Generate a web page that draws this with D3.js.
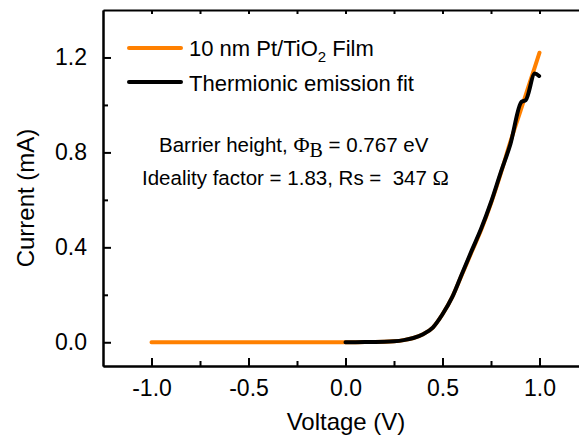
<!DOCTYPE html>
<html>
<head>
<meta charset="utf-8">
<script src="https://cdn.jsdelivr.net/npm/d3@7"></script>
<style>
  body { margin: 0; background: #fff; }
  svg { display: block; font-family: "Liberation Sans", Arial, sans-serif; }
</style>
</head>
<body>
<svg id="chart" width="579" height="439"></svg>
<script>
// measured I-V data (V in volts, I in mA)
var measV = [-1.0, -0.5, 0.0, 0.1, 0.2, 0.25, 0.3, 0.35, 0.4, 0.45, 0.5, 0.55, 0.6, 0.65, 0.7, 0.75, 0.8, 0.85, 0.9, 0.95, 1.0];
var measI = [0, 0, 0, 0.001, 0.002, 0.004, 0.009, 0.018, 0.034, 0.062, 0.118, 0.19, 0.285, 0.38, 0.475, 0.585, 0.71, 0.845, 0.97, 1.095, 1.22];

// thermionic emission fit
var fitV = [0.0, 0.1, 0.2, 0.25, 0.3, 0.35, 0.4, 0.45, 0.5, 0.55, 0.6, 0.65, 0.7, 0.75, 0.8, 0.85, 0.907, 0.929, 0.976, 0.998];
var fitI = [0, 0.001, 0.002, 0.004, 0.009, 0.018, 0.034, 0.062, 0.118, 0.19, 0.288, 0.385, 0.48, 0.59, 0.715, 0.835, 1.013, 1.02, 1.132, 1.122];

var xMajor = [-1.0, -0.5, 0.0, 0.5, 1.0];
var xMinor = [-0.75, -0.25, 0.25, 0.75];
var yMajor = [0.0, 0.4, 0.8, 1.2];
var yMinor = [0.2, 0.6, 1.0];

var orange = "#ff8000";

var svg = d3.select("#chart");

var x = d3.scaleLinear().domain([-1.25, 1.25]).range([103, 588]),
    y = d3.scaleLinear().domain([-0.1, 1.4]).range([366, 10]);

// plain hyphen for negatives, like the original
var fmt = function(d) { return d.toFixed(1); };

// axes: ticks point inward
svg.append("g")
    .attr("transform", "translate(0,366)")
    .call(d3.axisBottom(x).tickValues(xMajor).tickSize(-8).tickSizeOuter(0).tickPadding(14).tickFormat(fmt));
svg.append("g")
    .attr("transform", "translate(0,366)")
    .call(d3.axisBottom(x).tickValues(xMinor).tickSize(-5).tickSizeOuter(0).tickFormat(""));
svg.append("g")
    .attr("transform", "translate(0,10)")
    .call(d3.axisTop(x).tickValues(xMajor.concat(xMinor)).tickSize(-4).tickSizeOuter(0).tickFormat(""));

svg.append("g")
    .attr("transform", "translate(103,0)")
    .call(d3.axisLeft(y).tickValues(yMajor).tickSize(-8).tickSizeOuter(0).tickPadding(16).tickFormat(fmt));
svg.append("g")
    .attr("transform", "translate(103,0)")
    .call(d3.axisLeft(y).tickValues(yMinor).tickSize(-5).tickSizeOuter(0).tickFormat(""));

svg.selectAll(".domain").attr("stroke", "#000").attr("stroke-width", 2);
svg.selectAll(".tick line").attr("stroke", "#000").attr("stroke-width", 2);
svg.selectAll(".tick text")
    .attr("fill", "#000")
    .style("font-family", "'Liberation Sans', Arial, sans-serif")
    .style("font-size", "23px");

// axis titles
svg.append("text")
    .attr("x", 346).attr("y", 430)
    .attr("text-anchor", "middle")
    .style("font-size", "24px")
    .text("Voltage (V)");

svg.append("text")
    .attr("transform", "translate(34,198) rotate(-90)")
    .attr("text-anchor", "middle")
    .style("font-size", "24px")
    .text("Current (mA)");

// curves
var line = d3.line()
    .x(function(d) { return x(d[0]); })
    .y(function(d) { return y(d[1]); })
    .curve(d3.curveMonotoneX);

var meas = measV.map(function(v, i) { return [v, measI[i]]; });
var fit = fitV.map(function(v, i) { return [v, fitI[i]]; });

svg.append("path")
    .datum(meas)
    .attr("d", line)
    .attr("fill", "none")
    .attr("stroke", orange)
    .attr("stroke-width", 4)
    .attr("stroke-linecap", "round")
    .attr("stroke-linejoin", "round");

svg.append("path")
    .datum(fit)
    .attr("d", line)
    .attr("fill", "none")
    .attr("stroke", "#000")
    .attr("stroke-width", 4)
    .attr("stroke-linecap", "round")
    .attr("stroke-linejoin", "round");

// legend
var legend = svg.append("g").style("font-size", "22px");
legend.append("line").attr("x1", 129).attr("x2", 181).attr("y1", 48).attr("y2", 48)
    .attr("stroke", orange).attr("stroke-width", 4).attr("stroke-linecap", "round");
legend.append("line").attr("x1", 129).attr("x2", 181).attr("y1", 82).attr("y2", 82)
    .attr("stroke", "#000").attr("stroke-width", 4).attr("stroke-linecap", "round");

var t1 = legend.append("text").attr("x", 189).attr("y", 56);
t1.append("tspan").text("10 nm Pt/TiO");
t1.append("tspan").attr("dy", 6).style("font-size", "15px").text("2");
t1.append("tspan").attr("dy", -6).text(" Film");
legend.append("text").attr("x", 189).attr("y", 91).text("Thermionic emission fit");

// annotation
var ann = svg.append("g").style("font-size", "20.5px");
var a1 = ann.append("text").attr("x", 159).attr("y", 152);
a1.append("tspan").text("Barrier height, ");
a1.append("tspan").style("font-family", "'Liberation Serif', 'Times New Roman', serif").style("font-size", "22px").text("\u03A6");
a1.append("tspan").attr("dy", 5).style("font-family", "'Liberation Serif', 'Times New Roman', serif").style("font-size", "20px").text("B");
a1.append("tspan").attr("dy", -5).text(" = 0.767 eV");

var a2 = ann.append("text").attr("x", 142).attr("y", 185).style("white-space", "pre");
a2.append("tspan").text("Ideality factor = 1.83, Rs =  347 ");
a2.append("tspan").style("font-family", "'Liberation Serif', 'Times New Roman', serif").style("font-size", "22px").text("\u03A9");
</script>
</body>
</html>
